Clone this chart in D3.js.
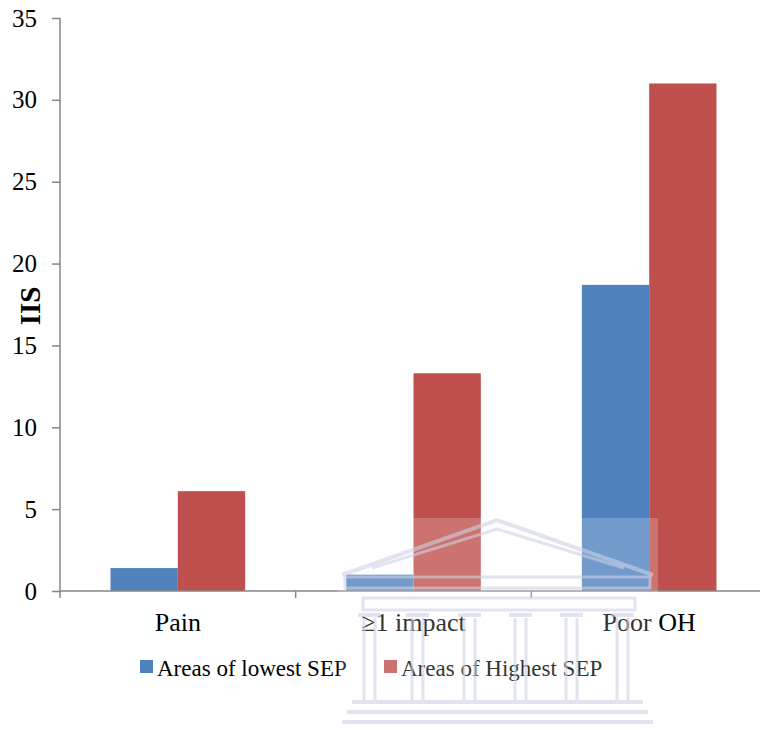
<!DOCTYPE html>
<html>
<head>
<meta charset="utf-8">
<script src="https://cdn.jsdelivr.net/npm/d3@7"></script>
<style>
  html, body { margin: 0; padding: 0; background: #fff; }
  svg { display: block; }
  text { font-family: "Liberation Serif", "Times New Roman", serif; fill: #000; }
</style>
</head>
<body>
<svg id="chart" width="760" height="730"></svg>
<script>
// Chart data
const categories = ["Pain", "\u22651 impact", "Poor OH"];
const seriesNames = ["Areas of lowest SEP", "Areas of Highest SEP"];
const lowestSEP = [1.4, 1.0, 18.7];
const highestSEP = [6.1, 13.3, 31.0];
const yTicks = [0, 5, 10, 15, 20, 25, 30, 35];
const yTitle = "IIS";
const colors = ["#4f81bd", "#c0504d"];

const svg = d3.select("#chart");
const plotLeft = 60, plotRight = 767, plotTop = 18, plotBottom = 591;

const x = d3.scaleBand().domain(categories).range([plotLeft, plotRight]).paddingInner(0).paddingOuter(0);
const bw = x.bandwidth();
const barW = bw / 3.5; // gap width 150% of a bar
const xs = d3.scaleBand().domain(seriesNames).range([0.75 * barW, 2.75 * barW]).padding(0);
const y = d3.scaleLinear().domain([0, 35]).range([plotBottom, plotTop]);

const rows = categories.map((c, i) => ({ cat: c, values: [lowestSEP[i], highestSEP[i]] }));

// Bars
const groups = svg.append("g").selectAll("g").data(rows).join("g")
  .attr("transform", d => `translate(${x(d.cat)},0)`);
groups.selectAll("rect")
  .data(d => d.values.map((v, k) => ({ name: seriesNames[k], v, k })))
  .join("rect")
  .attr("x", d => xs(d.name))
  .attr("width", xs.bandwidth())
  .attr("y", d => y(d.v))
  .attr("height", d => y(0) - y(d.v))
  .attr("fill", d => colors[d.k]);

// Y axis
const axisColor = "#868686";
const yAxis = svg.append("g").attr("transform", `translate(${plotLeft},0)`)
  .call(d3.axisLeft(y).tickValues(yTicks).tickSize(8).tickPadding(15).tickFormat(d3.format("d")));
yAxis.select(".domain").remove();
yAxis.append("line").attr("x1", 0).attr("x2", 0).attr("y1", plotTop).attr("y2", plotBottom + 7)
  .attr("stroke", axisColor).attr("stroke-width", 1.5);
yAxis.selectAll(".tick line").attr("stroke", axisColor).attr("stroke-width", 1.5);
yAxis.selectAll(".tick text").attr("font-size", 25).attr("fill", "#000")
  .attr("font-family", "Liberation Serif, serif");

// X axis
const xAxis = svg.append("g").attr("transform", `translate(0,${plotBottom})`)
  .call(d3.axisBottom(x).tickSize(0).tickPadding(40));
xAxis.select(".domain").remove();
xAxis.append("line").attr("x1", plotLeft).attr("x2", plotRight).attr("y1", 0).attr("y2", 0)
  .attr("stroke", axisColor).attr("stroke-width", 1.5);
xAxis.selectAll(".bnd").data(categories).join("line")
  .attr("x1", (d, i) => plotLeft + bw * (i + 1)).attr("x2", (d, i) => plotLeft + bw * (i + 1))
  .attr("y1", 0).attr("y2", 7).attr("stroke", axisColor).attr("stroke-width", 1.5);
xAxis.selectAll(".tick text").attr("font-size", 26).attr("fill", "#000")
  .attr("font-family", "Liberation Serif, serif").attr("dy", "0");

// Y axis title
svg.append("text")
  .attr("transform", "translate(40,306) rotate(-90)")
  .attr("text-anchor", "middle")
  .attr("font-size", 29).attr("font-weight", "bold")
  .text(yTitle);

// Legend
const legendItems = [
  { name: seriesNames[0], color: colors[0], x: 140 },
  { name: seriesNames[1], color: colors[1], x: 384 }
];
const lg = svg.append("g").selectAll("g").data(legendItems).join("g")
  .attr("transform", d => `translate(${d.x},660)`);
lg.append("rect").attr("width", 13).attr("height", 13).attr("fill", d => d.color);
lg.append("text").attr("x", 17).attr("y", 15.5).attr("font-size", 23).text(d => d.name);

// Faint campus emblem in the lower middle
const wm = svg.append("g").attr("pointer-events", "none");
wm.append("rect").attr("x", 338).attr("y", 518).attr("width", 320).attr("height", 212)
  .attr("fill", "#ffffff").attr("opacity", 0.2);
const wc = "#cdd2e4";
const ws = (g, w) => g.attr("fill", "none").attr("stroke", wc).attr("stroke-width", w || 3).attr("opacity", 0.6);
// pediment
wm.append("path").attr("d", "M342,575 L497,520 L653,575").call(ws, 4);
wm.append("path").attr("d", "M372,568 L497,529 L624,568").call(ws, 3);
// cornice and architrave
wm.append("rect").attr("x", 345).attr("y", 577).attr("width", 305).attr("height", 11).call(ws, 3);
wm.append("rect").attr("x", 363).attr("y", 598).attr("width", 272).attr("height", 12).call(ws, 3);
// columns with capitals
[361, 409, 461, 512, 563, 614].forEach(cx => {
  wm.append("line").attr("x1", cx - 3).attr("x2", cx + 20).attr("y1", 615).attr("y2", 615).call(ws, 4);
  wm.append("line").attr("x1", cx + 3).attr("x2", cx + 3).attr("y1", 618).attr("y2", 700).call(ws, 3);
  wm.append("line").attr("x1", cx + 14).attr("x2", cx + 14).attr("y1", 618).attr("y2", 700).call(ws, 3);
});
// steps
[702, 712, 722].forEach((sy, i) => {
  wm.append("line").attr("x1", 352 - i * 5).attr("x2", 643 + i * 5).attr("y1", sy).attr("y2", sy).call(ws, 4);
});
</script>
</body>
</html>
